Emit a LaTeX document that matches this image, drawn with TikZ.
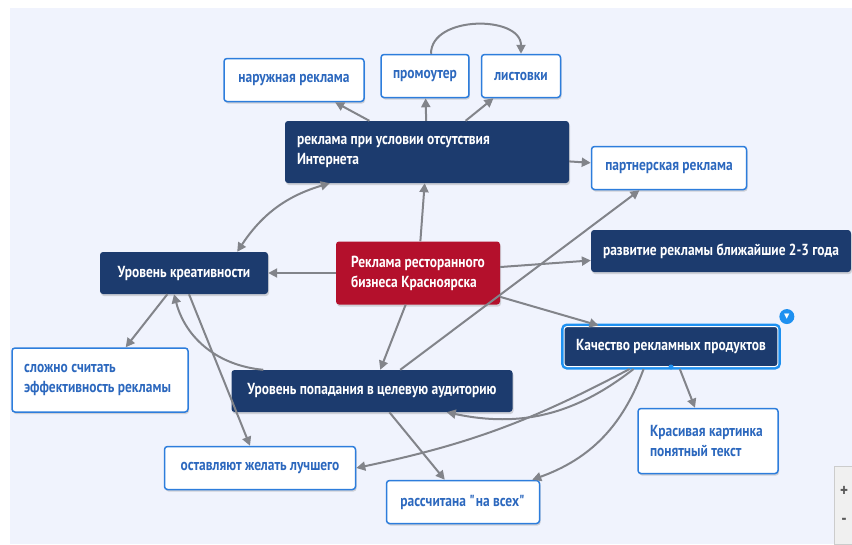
\documentclass[tikz,border=0pt]{standalone}
\usepackage{fontspec}
\setmainfont{PT Sans}[FakeStretch=0.84]
\newfontfamily\symfont{DejaVu Sans}
\usetikzlibrary{positioning,arrows.meta,shadows}
\definecolor{panelbg}{RGB}{240,243,253}
\definecolor{mapnavy}{RGB}{28,59,110}
\definecolor{mapred}{RGB}{180,16,44}
\definecolor{mapblue}{RGB}{45,125,220}
\definecolor{leafblue}{RGB}{44,104,190}
\definecolor{selblue}{RGB}{30,144,240}
\definecolor{linkgray}{RGB}{130,132,138}
\tikzset{
    >={Triangle[length=9pt,width=9pt]},
    box/.style={
        rectangle,
        rounded corners=3pt,
        font=\fontsize{16}{20}\selectfont\bfseries,
        inner xsep=12pt,
        inner ysep=4pt,
        minimum height=42pt,
        drop shadow={shadow xshift=1pt, shadow yshift=-2pt, opacity=0.3}
    },
    hub/.style={
        box,
        fill=mapred,
        text=white,
        align=flush left,
        minimum width=164pt,
        minimum height=63pt
    },
    topic/.style={
        box,
        fill=mapnavy,
        text=white,
        align=center
    },
    leaf/.style={
        box,
        fill=white,
        draw=mapblue,
        line width=1.5pt,
        text=leafblue,
        align=center,
        minimum height=43pt
    },
    picked/.style={
        topic,
        draw=white,
        line width=1pt,
        preaction={draw=selblue, line width=6pt}
    },
    link/.style={
        draw=linkgray,
        line width=2pt,
        ->
    }
}

\begin{document}
\begin{tikzpicture}[
    x=1pt, y=1pt,
    on grid
]

\useasboundingbox (0,0) rectangle (852,-544);
\fill[white] (0,0) rectangle (852,-544);
\fill[panelbg] (10,-8) rectangle (852,-544);

% Centre of the map
\node[hub] (hub) at (418,-273)
{
Реклама ресторанного\\
бизнеса Красноярска
};

% Offline advertising
\node[topic, align=flush left, text width=260pt, minimum height=62pt, above right=121pt and 9pt of hub] (offline)
{
реклама при условии отсутствия\\
Интернета
};

\node[leaf, minimum width=140pt, above left=72pt and 133pt of offline] (outdoor)
{наружная реклама};

\node[leaf, minimum width=87pt, above left=76pt and 2pt of offline] (promo)
{промоутер};

\node[leaf, minimum width=79pt, right=96pt of promo] (flyers)
{листовки};

\node[leaf, minimum width=155pt, below right=16pt and 242pt of offline] (partner)
{партнерская реклама};

% Creativity
\node[topic, minimum width=168pt, left=234pt of hub] (creative)
{Уровень креативности};

\node[leaf, align=flush left, text width=152pt, minimum height=64pt, below left=107pt and 84pt of creative] (hard)
{
сложно считать\\
эффективность рекламы
};

% Outlook
\node[topic, minimum width=256pt, above right=22pt and 303pt of hub] (future)
{развитие рекламы ближайшие 2-3 года};

% Quality
\node[picked, minimum width=210pt, minimum height=40pt, below right=73.5pt and 253pt of hub] (quality)
{Качество рекламных продуктов};

\node[leaf, align=flush left, text width=116pt, minimum height=65pt, below right=94.5pt and 37pt of quality] (pretty)
{
Красивая картинка\\
понятный текст
};

% Target audience
\node[topic, minimum width=281pt, below left=118pt and 46pt of hub] (audience)
{Уровень попадания в целевую аудиторию};

\node[leaf, minimum width=191pt, below left=77pt and 112pt of audience] (wish)
{оставляют желать лучшего};

\node[leaf, minimum width=153pt, below right=111pt and 91pt of audience] (everyone)
{рассчитана \textquotedbl на всех\textquotedbl};

% Links from the centre
\draw[link] (hub) -- (offline);
\draw[link] (hub) -- (creative);
\draw[link] (hub) -- (future);
\draw[link, shorten >=2pt] (hub) -- (quality);
\draw[link] (hub) -- (audience);

% Offline channels
\draw[link] (offline) -- (outdoor);
\draw[link] (offline) -- (promo);
\draw[link] (offline) -- (flyers);
\draw[link] (offline) -- (partner);
\draw[link] ([xshift=6pt]promo.north) to[out=90, in=90, looseness=1.1] (flyers.north);

% Creativity links
\draw[link, <->] ([xshift=-31pt]creative.north east) to[bend left=20] ([xshift=45pt]offline.south west);
\draw[link] (creative) -- (hard);
\draw[link] ([xshift=5pt]creative.south) -- ([xshift=-10pt]wish.north);

% Audience links
\draw[link] (audience) -- (partner);
\draw[link] ([xshift=32pt]audience.north west) to[bend left=35] ([xshift=-10pt]creative.south);
\draw[link] (audience) -- (everyone);

% Quality links
\draw[link] ([xshift=70pt,yshift=-2pt]quality.south west) to[bend left=25] ([xshift=-66pt]audience.south east);
\draw[link] ([xshift=66pt,yshift=-2pt]quality.south west) to[bend left=8] (wish.east);
\draw[link] ([xshift=80pt,yshift=-2pt]quality.south west) to[bend left=25] ([xshift=-8pt]everyone.north east);
\draw[link, shorten <=2pt] (quality) -- (pretty);

% Selection marks
\fill[selblue] (quality.south) circle (2.5pt);
\node[circle, fill=selblue, inner sep=1pt, minimum size=15pt, font=\symfont\fontsize{7}{7}\selectfont, text=white, above right=4pt and 3pt of quality.north east] (toggle)
{▼};

% Zoom control
\node[rectangle, draw=gray!40, fill=gray!12, minimum width=20pt, minimum height=78pt, anchor=north west, font=\fontsize{18}{28}\selectfont\bfseries, text=gray!70!black, align=center] (zoomctl) at (834,-466)
{+\\-};

\end{tikzpicture}
\end{document}
